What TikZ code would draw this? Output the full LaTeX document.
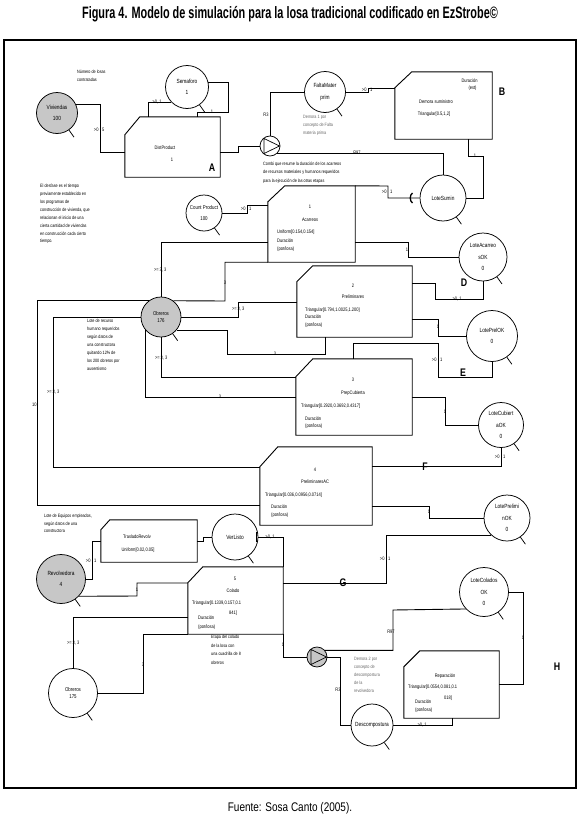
\documentclass[tikz,border=0pt]{standalone}
\usepackage{fontspec}
\setmainfont{Liberation Sans}[FakeStretch=0.8]
\newfontfamily\titlefont{Liberation Sans}[FakeStretch=0.66]
\newcommand\cham[3]{\draw[line width=0.9pt] ([yshift=-#3pt]#1.north west) -- ([xshift=#2pt]#1.north west) -- (#1.north east) -- (#1.south east) -- (#1.south west) -- cycle;}
\begin{document}
\begin{tikzpicture}[x=1pt,y=-1pt,
 q/.style={circle,draw,line width=0.75pt,inner sep=0pt,align=center,font=\fontsize{6}{11.5}\selectfont},
 lk/.style={draw,line width=0.9pt},
 lb/.style={inner sep=0.3pt,font=\fontsize{5}{6}\selectfont},
 nt/.style={inner sep=0pt,align=left,anchor=north west,font=\fontsize{4.7}{7.9}\selectfont},
 bg/.style={inner sep=0pt,font=\bfseries\fontsize{11}{12}\selectfont},
 bx/.style={inner sep=0pt},
 tx/.style={inner sep=0pt,font=\fontsize{5}{6}\selectfont},
 tl/.style={tx,anchor=west},
 gr/.style={fill=black!22},
 gt/.style={text=black!60},
]
\useasboundingbox (0,0) rectangle (580,819);
\node[font=\titlefont\bfseries\fontsize{16.5}{18}\selectfont] (title) at (290,14) {Figura 4. Modelo de simulación para la losa tradicional codificado en EzStrobe©};
\node[font=\fontsize{12.5}{14}\selectfont] (foot) at (290,808) {Fuente: Sosa Canto (2005).};
\draw[line width=2.4pt] (4,40) rectangle (576,788);

% circles
\node[q,gr,minimum size=41pt] (viv) at (57,113) {Viviendas\\100};
\node[q,minimum size=43pt] (sem) at (187,87) {Semaforo\\1};
\node[q,minimum size=41pt] (falta) at (325,92) {FaltaMater\\prim};
\node[q,minimum size=46pt] (sumin) at (443,198) {LoteSumin};
\node[q,minimum size=36pt,font=\fontsize{5.5}{11}\selectfont] (count) at (204,213) {Count Product\\100};
\node[q,gr,minimum size=40pt,font=\fontsize{5.5}{7.5}\selectfont] (ob1) at (161,317) {Obreros\\176};
\node[q,minimum size=48pt] (lac) at (483,257) {LoteAcarreo\\sOK\\0};
\node[q,minimum size=51pt] (lpr) at (492,336) {LotePrelOK\\0};
\node[q,minimum size=45pt] (lcu) at (501,425) {LoteCubiert\\aOK\\0};
\node[q,minimum size=46pt] (lpm) at (507,518) {LotePrelimi\\nOK\\0};
\node[q,minimum size=46pt] (vl) at (235,537) {VerListo};
\node[q,gr,minimum size=49pt] (rev) at (61,579) {Revolvedora\\4};
\node[q,minimum size=49pt,font=\fontsize{5.5}{7.5}\selectfont] (ob2) at (73,693) {Obreros\\175};
\node[q,minimum size=49pt] (lco) at (484,592) {LoteColados\\OK\\0};
\node[q,minimum size=42pt] (des) at (372,725) {Descompostura};
\node[circle,draw,line width=0.75pt,minimum size=20pt,inner sep=0pt] (p1) at (270,146) {};
\node[circle,draw,line width=0.75pt,gr,minimum size=20pt,inner sep=0pt] (p2) at (317,657) {};
\foreach \n in {viv,sem,falta,sumin,count,ob1,lac,lpr,lcu,lpm,vl,rev,ob2,lco,des}
  \draw[line width=0.75pt] (\n.-55) -- ++(5,7);
\draw[line width=0.7pt] (p1) ++(-6,-7.5) -- ++(0,15) -- ++(15.5,-7.5) -- cycle;
\draw[line width=0.7pt] (p2) ++(-6,-7.5) -- ++(0,15) -- ++(15.5,-7.5) -- cycle;

% boxes
\node[bx,minimum width=95pt,minimum height=60pt] (dp) at (172.5,147) {};
\node[bx,minimum width=97pt,minimum height=67pt] (dsum) at (443.5,105.5) {};
\node[bx,minimum width=87pt,minimum height=76pt] (acar) at (311.5,224) {};
\node[bx,minimum width=115pt,minimum height=71pt] (prel) at (354.5,301.5) {};
\node[bx,minimum width=116pt,minimum height=76pt] (prepc) at (354,397) {};
\node[bx,minimum width=112pt,minimum height=78pt] (prelac) at (316,486) {};
\node[bx,minimum width=96pt,minimum height=42pt] (tras) at (149,541) {};
\node[bx,minimum width=95pt,minimum height=67pt] (col) at (235.5,600.5) {};
\node[bx,minimum width=95pt,minimum height=67pt] (rep) at (451.5,684.5) {};
\cham{dp}{15}{18}
\cham{dsum}{17}{16}
\cham{acar}{17}{16}
\cham{prel}{16}{16}
\cham{prepc}{17}{18}
\cham{prelac}{18}{20}
\cham{tras}{9}{10}
\cham{col}{15}{16}
\cham{rep}{16}{16}

% box texts
\node[tx] (t1) at (165,148) {DistProduct};
\node[tx] (t2) at (172,160) {1};
\node[bg] (lA) at (212,168) {A};
\node[tx] (t3) at (469.5,81) {Duración};
\node[tx] (t4) at (472.5,88) {(est)};
\node[tx] (t5) at (436,102) {Demora suministro};
\node[tx] (t6) at (434,114) {Triangular[0.5,1,2]};
\node[bg] (lB) at (502,92) {B};
\node[tx] (t7) at (310,207) {1};
\node[tx] (t8) at (310,220) {Acarreos};
\node[tl] (t9) at (277,232) {Uniform[0.154,0.154]};
\node[tl] (t10) at (277,241) {Duración};
\node[tl] (t11) at (277,249) {(por/losa)};
\node[tx] (t12) at (353,286) {2};
\node[tx] (t13) at (353,297) {Preliminares};
\node[tl] (t14) at (305,310) {Triangular[0.794,1.0025,1.200]};
\node[tl] (t15) at (305,317) {Duración};
\node[tl] (t16) at (305,325) {(por/losa)};
\node[tx] (t17) at (353,380) {3};
\node[tx] (t18) at (353,393) {PrepCubierta};
\node[tl] (t19) at (301,406) {Triangular[0.2920,0.3692,0.4317]};
\node[tl] (t20) at (305,419) {Duración};
\node[tl] (t21) at (305,426) {(por/losa)};
\node[tx] (t22) at (315,470) {4};
\node[tx] (t23) at (315,482) {PreliminaresAC};
\node[tl] (t24) at (265,495) {Triangular[0.036,0.0956,0.0714]};
\node[tl] (t25) at (271,507) {Duración};
\node[tl] (t26) at (271,515) {(por/losa)};
\node[tx] (t27) at (137,537) {TrasladoRevolv};
\node[tx] (t28) at (138,550) {Uniform[0.02,0.05]};
\node[tx] (t29) at (235,579) {5};
\node[tx] (t30) at (233,591) {Colado};
\node[tl] (t31) at (192,603) {Triangular[0.1339,0.157,0.1};
\node[tx] (t32) at (233,613) {841]};
\node[tl] (t33) at (198,618) {Duración};
\node[tl] (t34) at (198,627) {(por/losa)};
\node[tx] (t35) at (445,676) {Reparación};
\node[tl] (t36) at (408,687) {Triangular[0.0554,0.081,0.1};
\node[tx] (t37) at (448,698) {018]};
\node[tl] (t38) at (415,702) {Duración};
\node[tl] (t39) at (415,710) {(por/losa)};

% notes
\node[nt] (n1) at (77,70) {Número de losas\\contratadas};
\node[nt] (n2) at (40,184) {El desfase es el tiempo\\previamente establecido en\\los programas de\\construcción de vivienda, que\\relacionan el inicio de una\\cierta cantidad de viviendas\\en construcción cada cierto\\tiempo.};
\node[nt,font=\fontsize{4.7}{8.3}\selectfont] (n3) at (263,162) {Combi que resume la duración de los acarreos\\de recursos materiales y humanos requeridos\\para la ejecución de las otras etapas};
\node[nt,gt] (n4) at (303,115) {Demora 1 por\\concepto de Falta\\materia prima};
\node[nt] (n5) at (87,319) {Lote de recurso\\humano requeridos\\según datos de\\una constructora\\quitando 12\% de\\los 200 obreros por\\ausentismo};
\node[nt,font=\fontsize{4.7}{7.5}\selectfont] (n6) at (44,514) {Lote de Equipos empleados,\\según datos de una\\constructora};
\node[nt,font=\fontsize{4.7}{8.5}\selectfont] (n7) at (211,635) {Etapa del colado\\de la losa con\\una cuadrilla de 8\\obreros};
\node[nt,gt] (n8) at (354,657) {Demora 2 por\\concepto de\\descompostura\\de la\\revolvedora};

% connectors
\draw[lk] (viv.24) -| (100,152) -- (dp.west |- 0,152);
\node[lb,anchor=east] (l1a) at (99,130) {>0}; \node[lb,anchor=west] (l1b) at (101.5,130) {5};
\draw[lk] (dp.north -| 148,0) |- (sem.224);
\node[lb] (l2) at (157,102) {>0, 1};
\draw[lk] (dp.north -| 197,0) |- (228,112) |- (sem.11);
\node[lb] (l3) at (212,112) {1};
\draw[lk] (dp.east |- 0,152) -| (238,146) -- (p1.west);
\draw[lk] (p1.north) |- (falta.west);
\node[lb] (l4) at (266,115) {R3};
\draw[lk] (p1.-45) -| (sumin.north);
\node[lb] (l5) at (357,153) {R97};
\draw[lk] (falta.east) -| (368,88) -- (dsum.west |- 0,88);
\node[lb,anchor=east] (l6a) at (367,90) {>0}; \node[lb,anchor=west] (l6b) at (369.5,90) {1};
\draw[lk] (dsum.south -| 468,0) |- (483,156) |- (sumin.east);
\node[lb] (l7) at (475,156) {1};
\draw[lk] (sumin.west) -| (388,186) -- (acar.north east);
\node[lb,anchor=east] (l8a) at (387,192) {>0}; \node[lb,anchor=west] (l8b) at (389.5,192) {1};
\draw[line width=1.3pt] (412.5,193) .. controls (409.5,195) and (409.5,201) .. (412.5,203);
\draw[lk] (count.east) -| (247,205) -- (acar.west |- 0,205);
\node[lb,anchor=east] (l9a) at (246,209) {>0}; \node[lb,anchor=west] (l9b) at (248.5,209) {1};
\draw[lk] (ob1.north) |- (acar.west |- 0,242);
\node[lb,anchor=east] (l10a) at (159.2,270) {>=}; \node[lb,anchor=west] (l10b) at (159.2,270) {3, 3};
\draw[lk] (acar.south west) -| (225,301) -- (ob1.53);
\node[lb] (l11) at (225,283) {3};
\draw[lk] (ob1.127) -| (37,505) -- (prelac.west |- 0,505);
\node[lb,anchor=east] (l12) at (37,405) {10};
\draw[lk] (ob1.west) -| (53,467) -- (prelac.west |- 0,467);
\node[lb,anchor=east] (l13a) at (52.2,392) {>=}; \node[lb,anchor=west] (l13b) at (52.2,392) {3, 3};
\draw[lk] (ob1.east) -| (238,302) -- (prel.west |- 0,302);
\node[lb,anchor=east] (l14a) at (237.2,309) {>=}; \node[lb,anchor=west] (l14b) at (237.2,309) {3, 3};
\draw[lk] (prel.south -| 325,0) |- (227,354) |- (ob1.-40);
\node[lb] (l15) at (275,354) {3};
\draw[lk] (ob1.south) |- (prepc.west |- 0,377);
\node[lb,anchor=east] (l16a) at (160.2,358) {>=}; \node[lb,anchor=west] (l16b) at (160.2,358) {3, 3};
\draw[lk] (prepc.west |- 0,397) -| (ob1.-139);
\node[lb] (l17) at (220,397) {3};
\draw[lk] (acar.east |- 0,242) -| (408,257) -- (lac.west);
\node[lb] (l18) at (407,250) {1};
\draw[lk] (lac.south) |- (435,299) |- (prel.east |- 0,283);
\node[lb] (l19) at (457,299) {>0, 1};
\node[bg] (lD) at (464,283) {D};
\draw[lk] (prel.east |- 0,319) -| (438,336) -- (lpr.west);
\node[lb] (l20) at (438,327) {1};
\draw[lk] (lpr.south) |- (438,377) |- (353,343) -- (prepc.north -| 353,0);
\node[lb,anchor=east] (l21a) at (437,360) {>0}; \node[lb,anchor=west] (l21b) at (439.5,360) {1};
\node[bg] (lE) at (463,373) {E};
\draw[lk] (prepc.east |- 0,397) -| (445,425) -- (lcu.west);
\node[lb] (l22) at (445,412) {1};
\draw[lk] (lcu.south) |- (prelac.east |- 0,466);
\node[lb,anchor=east] (l23a) at (500,457) {>0}; \node[lb,anchor=west] (l23b) at (502.5,457) {1};
\node[bg] (lF) at (425,467) {F};
\draw[lk] (prelac.east |- 0,506) -| (429,518) -- (lpm.west);
\node[lb] (l24) at (429,512) {1};
\draw[lk] (lpm.-133) -| (386,583) -- (col.east |- 0,583);
\node[lb,anchor=east] (l25a) at (385,559) {>0}; \node[lb,anchor=west] (l25b) at (387.5,559) {1};
\node[bg] (lG) at (343,583) {G};
\draw[lk] (vl.east) -| (col.north east);
\node[lb] (l26) at (270,537) {>0, 1};
\draw[line width=1.3pt] (256.5,532) -- (256.5,542);
\draw[lk] (col.south east) |- (p2.west);
\node[lb] (l27) at (283,645) {1};
\draw[lk] (p2.40) -| (393,610) -- (lco.-137);
\node[lb] (l28) at (391,632) {R97};
\draw[lk] (p2.east) -| (340,725) -- (des.west);
\node[lb] (l29) at (338,690) {R3};
\draw[lk] (des.east) -| (rep.south -| 452,0);
\node[lb] (l30) at (422,725) {>0, 1};
\draw[lk] (rep.east |- 0,684) -| (523,592) -- (lco.east);
\node[lb] (l31) at (523,638) {1};
\node[bg] (lH) at (557,667) {H};
\draw[lk] (tras.east) -| (203,537) -- (vl.west);
\draw[lk] (rev.east) -| (92,541) -- (tras.west);
\node[lb,anchor=east] (l32a) at (91,561) {>0}; \node[lb,anchor=west] (l32b) at (93.5,561) {1};
\draw[lk] (col.west |- 0,583) -| (137,596) -- (rev.-44);
\node[lb] (l33) at (137,590) {1};
\draw[lk] (ob2.north) |- (col.west |- 0,617);
\node[lb,anchor=east] (l34a) at (72.2,643) {>=}; \node[lb,anchor=west] (l34b) at (72.2,643) {3, 3};
\draw[lk] (col.south west) -| (143,693) -- (ob2.east);
\node[lb] (l35) at (143,665) {3};
\end{tikzpicture}
\end{document}
